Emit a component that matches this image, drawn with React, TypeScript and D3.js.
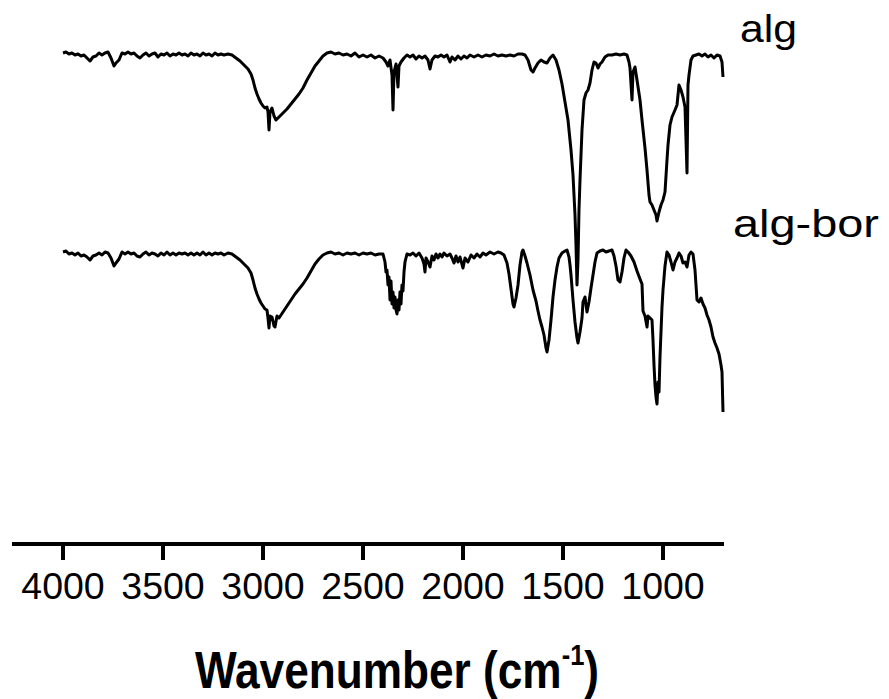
import React from "react";
import * as d3 from "d3";

// FTIR spectra: [wavenumber (cm-1), transmittance (a.u.)]
const algSpectrum: [number, number][] = [
  [4000, 99.6], [3985, 100], [3970, 99.2], [3955, 99.6], [3940, 98.8], [3925, 99.2], [3910, 98.4],
  [3895, 98.8], [3880, 97.6], [3865, 96.4], [3850, 98], [3835, 98.4], [3820, 99.6], [3805, 98.8],
  [3790, 99.6], [3775, 100], [3760, 97.6], [3745, 94.4], [3735, 95.6], [3720, 96.8], [3705, 99.6],
  [3690, 99.2], [3675, 100], [3660, 99.2], [3645, 99.6], [3630, 98.4], [3615, 97.6], [3600, 98.8],
  [3585, 99.6], [3570, 98.4], [3555, 99.2], [3540, 99.6], [3525, 98], [3510, 99.2], [3495, 98.8],
  [3480, 99.6], [3465, 98.4], [3450, 99.2], [3435, 98.8], [3420, 99.6], [3405, 98.8], [3390, 99.2],
  [3375, 98.4], [3360, 99.6], [3345, 98.8], [3330, 99.2], [3315, 98.4], [3300, 99.6], [3285, 98.8],
  [3270, 99.2], [3255, 98.4], [3240, 99.6], [3225, 98.8], [3210, 99.2], [3195, 98.8], [3175, 99.2],
  [3155, 98.8], [3135, 97.6], [3115, 96.4], [3095, 94.8], [3075, 93.2], [3060, 91.2], [3050, 88.8],
  [3040, 85.6], [3030, 83.2], [3020, 81.2], [3010, 79.6], [3000, 78.4], [2990, 77.6], [2980, 78],
  [2975, 76], [2970, 68.8], [2965, 76], [2955, 77.6], [2945, 74.4], [2935, 72.8], [2920, 74],
  [2900, 75.6], [2880, 77.2], [2860, 79.2], [2840, 81.2], [2820, 83.2], [2800, 85.6], [2780, 88.8],
  [2760, 91.6], [2740, 94.4], [2720, 96.4], [2700, 98.4], [2680, 99.6], [2660, 100], [2640, 99.2],
  [2620, 99.6], [2600, 98.8], [2580, 99.2], [2560, 98.4], [2540, 99.6], [2520, 98], [2500, 98.8],
  [2480, 98], [2460, 98.8], [2440, 97.6], [2420, 98.4], [2400, 97.6], [2385, 96], [2375, 94.4],
  [2365, 96.8], [2355, 90.8], [2350, 76.8], [2345, 92], [2335, 95.2], [2325, 86], [2320, 94.4],
  [2310, 96], [2295, 97.6], [2280, 98.8], [2265, 98], [2250, 98.8], [2235, 97.2], [2220, 98.4],
  [2205, 97.6], [2190, 98.4], [2175, 96.8], [2165, 93.2], [2155, 96.8], [2140, 98.4], [2125, 98],
  [2110, 98.8], [2095, 98], [2080, 98.8], [2065, 96], [2055, 98], [2040, 96.8], [2025, 98.4],
  [2010, 97.2], [1995, 98.4], [1980, 97.6], [1965, 98.8], [1945, 98], [1925, 98.8], [1905, 98],
  [1885, 98.8], [1865, 98.4], [1845, 99.2], [1825, 98.4], [1805, 98.8], [1785, 98.4], [1765, 98.8],
  [1745, 98.4], [1725, 99.2], [1705, 99.2], [1690, 98.8], [1675, 96.8], [1660, 92.8], [1650, 92],
  [1640, 93.6], [1625, 95.6], [1610, 96.8], [1595, 96], [1580, 95.6], [1565, 97.6], [1550, 98.8],
  [1535, 96.8], [1520, 92.8], [1505, 87.2], [1490, 80], [1475, 72.8], [1460, 60.8], [1450, 50.8],
  [1440, 34.8], [1435, 22.8], [1430, 6.8], [1425, 16.8], [1420, 36.8], [1415, 48.8], [1405, 68.8],
  [1395, 80.8], [1385, 83.6], [1375, 84.8], [1365, 87.6], [1355, 92.8], [1345, 96], [1335, 95.6],
  [1325, 93.6], [1315, 95.2], [1305, 96], [1290, 98], [1275, 98.8], [1255, 98.8], [1235, 99.2],
  [1215, 98.8], [1195, 99.2], [1180, 98.8], [1170, 96], [1165, 93.6], [1155, 80.8], [1150, 92],
  [1140, 94], [1130, 88.8], [1115, 80.8], [1105, 72.8], [1090, 61.6], [1080, 52.8], [1070, 42.8],
  [1065, 40], [1055, 38.8], [1045, 36.8], [1035, 34.8], [1030, 32.4], [1020, 36], [1010, 38.8],
  [1000, 40.8], [990, 44], [980, 56.8], [975, 62.8], [965, 70.8], [955, 74], [940, 76.8],
  [930, 78.8], [920, 86.8], [910, 84.8], [900, 82], [890, 78], [880, 51.6], [875, 86.8],
  [870, 90.8], [860, 96.8], [850, 98.4], [835, 98.8], [820, 99.2], [805, 98.4], [790, 99.2],
  [775, 98], [760, 98.8], [745, 97.6], [730, 98.8], [715, 98.4], [705, 96], [700, 90],
];

const algBorSpectrum: [number, number][] = [
  [4000, 100], [3985, 100.4], [3970, 99.2], [3955, 99.6], [3940, 98.8], [3925, 99.6], [3910, 98.4],
  [3895, 98.8], [3880, 98], [3865, 96.8], [3850, 98.4], [3835, 98.8], [3820, 99.6], [3805, 98.8],
  [3790, 100], [3775, 99.6], [3760, 97.6], [3745, 94.4], [3735, 95.6], [3720, 97.2], [3705, 100],
  [3690, 99.2], [3675, 100], [3660, 99.2], [3645, 99.6], [3630, 98.4], [3615, 98], [3600, 99.2],
  [3585, 100], [3570, 98.8], [3555, 99.6], [3540, 99.2], [3525, 98.4], [3510, 99.6], [3495, 98.8],
  [3480, 100], [3465, 98.8], [3450, 99.6], [3435, 98.8], [3420, 99.6], [3405, 99.2], [3390, 99.6],
  [3375, 98.8], [3360, 99.6], [3345, 98.8], [3330, 99.6], [3315, 98.8], [3300, 100], [3285, 98.8],
  [3270, 99.6], [3255, 98.8], [3240, 99.6], [3225, 99.2], [3210, 99.6], [3195, 98.8], [3175, 99.6],
  [3155, 99.2], [3135, 98], [3115, 96.8], [3095, 95.2], [3075, 93.6], [3060, 91.6], [3050, 88.8],
  [3040, 85.6], [3030, 83.2], [3020, 81.2], [3010, 79.6], [3000, 78.4], [2990, 77.2], [2980, 76.8],
  [2975, 73.6], [2970, 69.6], [2965, 74.4], [2955, 74], [2945, 70.4], [2940, 70], [2930, 74.4],
  [2920, 73.6], [2900, 76], [2880, 78.4], [2860, 80.8], [2840, 83.2], [2820, 85.2], [2800, 87.2],
  [2780, 89.6], [2760, 92.4], [2740, 95.2], [2720, 97.2], [2700, 98.8], [2680, 99.6], [2660, 100],
  [2640, 99.2], [2620, 99.6], [2600, 98.8], [2580, 99.6], [2560, 99.2], [2540, 99.6], [2520, 98.8],
  [2500, 99.6], [2480, 99.2], [2460, 99.6], [2440, 98.8], [2420, 99.2], [2400, 99.2], [2390, 96],
  [2385, 92], [2380, 92.8], [2375, 86.8], [2370, 90], [2365, 80.8], [2360, 88.4], [2355, 79.2],
  [2350, 84], [2345, 77.6], [2340, 82], [2335, 76.8], [2330, 75.2], [2325, 80.8], [2320, 76.8],
  [2315, 84], [2310, 79.2], [2305, 86.8], [2300, 84.4], [2295, 92], [2290, 96], [2280, 99.2],
  [2265, 98.8], [2250, 99.6], [2235, 98.4], [2220, 99.6], [2205, 97.6], [2195, 95.2], [2190, 92],
  [2185, 97.6], [2175, 96], [2165, 94], [2155, 98.4], [2145, 96.8], [2135, 99.2], [2125, 97.6],
  [2115, 99.2], [2105, 98], [2095, 99.6], [2080, 98.4], [2065, 99.2], [2055, 97.6], [2045, 95.6],
  [2035, 98.4], [2025, 96], [2015, 98], [2000, 93.6], [1990, 97.6], [1975, 96], [1960, 98.8],
  [1945, 97.6], [1930, 99.2], [1915, 98], [1900, 99.6], [1885, 98.8], [1865, 100], [1845, 99.2],
  [1825, 100], [1810, 99.6], [1795, 98.8], [1780, 95.6], [1770, 91.2], [1760, 85.2], [1750, 79.2],
  [1745, 78], [1735, 81.6], [1725, 86.8], [1715, 94.8], [1705, 100], [1700, 100.8], [1690, 98.4],
  [1680, 95.6], [1665, 90.8], [1650, 84.8], [1635, 80.4], [1625, 76.4], [1615, 72.8], [1605, 70],
  [1595, 66.8], [1585, 61.6], [1580, 60], [1570, 64.8], [1560, 72.8], [1550, 82], [1540, 88.8],
  [1530, 94], [1520, 97.6], [1505, 99.6], [1490, 100.4], [1480, 100.8], [1470, 98], [1465, 94.8],
  [1460, 90.8], [1450, 80.8], [1440, 72], [1430, 65.6], [1425, 63.6], [1415, 68], [1405, 73.6],
  [1400, 80], [1390, 82], [1380, 76], [1370, 80], [1360, 85.6], [1350, 90.8], [1340, 96],
  [1330, 99.6], [1315, 100.4], [1300, 100.8], [1285, 100], [1270, 100.4], [1255, 100.8], [1245, 98.4],
  [1235, 94.4], [1225, 88.8], [1215, 88], [1205, 92], [1195, 97.6], [1185, 100.8], [1175, 100],
  [1160, 98.4], [1145, 96], [1130, 92.4], [1115, 89.2], [1105, 87.2], [1100, 76.4], [1090, 74.4],
  [1080, 70], [1075, 74.4], [1065, 73.6], [1055, 72.8], [1050, 64.8], [1045, 54.8], [1040, 46.8],
  [1035, 42], [1030, 39.2], [1025, 48], [1020, 44], [1015, 58], [1010, 68], [1005, 78],
  [1000, 84.8], [990, 94.4], [980, 100], [970, 98.8], [960, 96], [950, 92.8], [940, 96],
  [930, 97.6], [920, 99.6], [910, 98.4], [900, 95.6], [890, 96], [880, 94], [870, 98.8],
  [860, 100], [850, 99.2], [840, 92.8], [830, 80.8], [820, 80], [810, 81.6], [800, 79.2],
  [790, 77.6], [780, 74.8], [770, 72.8], [760, 70], [750, 66], [740, 63.6], [730, 61.6],
  [720, 59.2], [710, 54.8], [705, 52], [700, 36],
];

const xTicks = [4000, 3500, 3000, 2500, 2000, 1500, 1000];
const seriesLabels = ["alg", "alg-bor"];

const W = 889;
const H = 699;
const FONT = "'Liberation Sans', Arial, Helvetica, sans-serif";
const BOR_OFFSET = 80; // vertical stacking offset (transmittance units)

export default function App() {
  const x = d3.scaleLinear().domain([4255, 695]).range([12, 724]);
  const y = d3.scaleLinear().domain([100, 0]).range([52, 302]);
  const axisY = 544;

  const lineAlg = d3
    .line<[number, number]>()
    .x((d) => x(d[0]))
    .y((d) => y(d[1]));
  const lineBor = d3
    .line<[number, number]>()
    .x((d) => x(d[0]))
    .y((d) => y(d[1] - BOR_OFFSET));

  return (
    <div style={{ position: "absolute", left: 0, top: 0 }}>
      <svg width={W} height={H} viewBox={`0 0 ${W} ${H}`} style={{ display: "block", background: "#fff" }}>
        <path d={lineAlg(algSpectrum) || ""} fill="none" stroke="#000" strokeWidth={3} strokeLinejoin="round" />
        <path d={lineBor(algBorSpectrum) || ""} fill="none" stroke="#000" strokeWidth={3} strokeLinejoin="round" />

        <text x={740} y={42} fontFamily={FONT} fontSize={38} textLength={57} lengthAdjust="spacingAndGlyphs" fill="#000">
          {seriesLabels[0]}
        </text>
        <text x={733} y={237} fontFamily={FONT} fontSize={38} textLength={146} lengthAdjust="spacingAndGlyphs" fill="#000">
          {seriesLabels[1]}
        </text>

        {/* x axis */}
        <line x1={x.range()[0]} x2={x.range()[1]} y1={axisY} y2={axisY} stroke="#000" strokeWidth={4} />
        {xTicks.map((t) => (
          <g key={t} transform={`translate(${x(t)},0)`}>
            <line y1={axisY} y2={axisY + 16} stroke="#000" strokeWidth={4} />
            <text y={599} textAnchor="middle" fontFamily={FONT} fontSize={37.5} fill="#000">
              {t}
            </text>
          </g>
        ))}

        <g transform={`translate(397,688) scale(0.85,1)`}>
          <text textAnchor="middle" fontFamily={FONT} fontWeight="bold" fontSize={52} fill="#000">
            Wavenumber (cm
            <tspan fontSize={30} dy={-23}>-1</tspan>
            <tspan fontSize={52} dy={23}>)</tspan>
          </text>
        </g>
      </svg>
    </div>
  );
}
